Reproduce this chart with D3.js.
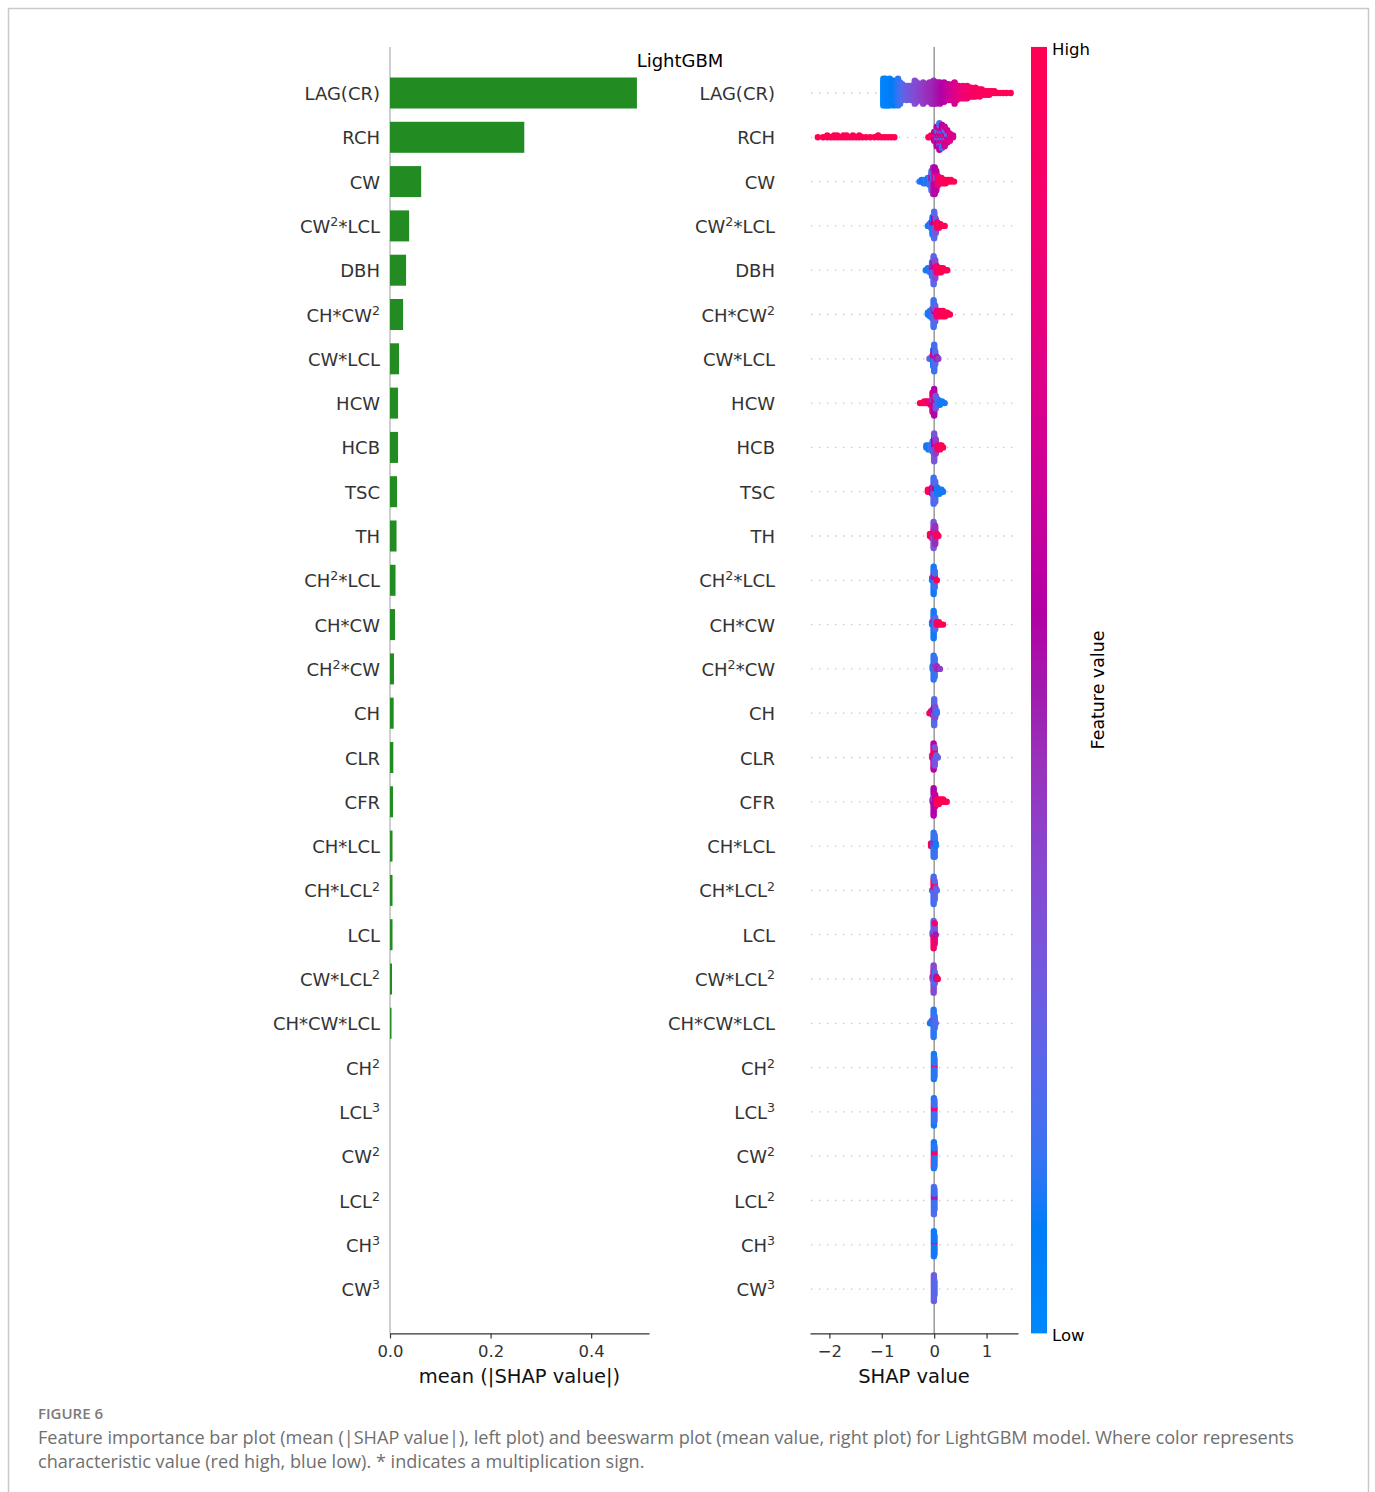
<!DOCTYPE html>
<html>
<head>
<meta charset="utf-8">
<script src="https://cdn.jsdelivr.net/npm/d3@7"></script>
<style>
  body { margin: 0; background: #fff; }
  svg { display: block; }
</style>
</head>
<body>
<svg id="chart" width="1375" height="1492"></svg>
<script>
// ---- features, ordered by importance (top to bottom) ----
const features = ["LAG(CR)", "RCH", "CW", "CW^2*LCL", "DBH", "CH*CW^2", "CW*LCL", "HCW", "HCB", "TSC",
  "TH", "CH^2*LCL", "CH*CW", "CH^2*CW", "CH", "CLR", "CFR", "CH*LCL", "CH*LCL^2", "LCL",
  "CW*LCL^2", "CH*CW*LCL", "CH^2", "LCL^3", "CW^2", "LCL^2", "CH^3", "CW^3"];

// mean(|SHAP value|) per feature
const meanAbsShap = [0.491, 0.267, 0.062, 0.038, 0.032, 0.026, 0.018, 0.016, 0.016, 0.014,
  0.013, 0.011, 0.010, 0.008, 0.0073, 0.0066, 0.006, 0.005, 0.005, 0.005,
  0.004, 0.003, 0, 0, 0, 0, 0, 0];

const barTicks = [0, 0.2, 0.4];
const shapTicks = [-2, -1, 0, 1];

// beeswarm samples per feature: [SHAP value, number of samples, normalised feature value (0 low .. 1 high)]
const swarmLAG_CR = [[-0.97,16,0.02],[-0.93,16,0.03],[-0.89,15,0.05],[-0.85,16,0.05],[-0.81,14,0.08],[-0.77,15,0.08],
  [-0.73,12,0.10],[-0.69,16,0.12],[-0.65,13,0.15],[-0.61,10,0.18],[-0.57,8,0.22],[-0.53,9,0.25],[-0.49,8,0.27],
  [-0.45,9,0.29],[-0.41,8,0.31],[-0.37,14,0.33],[-0.33,12,0.35],[-0.29,9,0.37],[-0.25,10,0.39],[-0.21,13,0.40],
  [-0.17,11,0.42],[-0.13,10,0.44],[-0.09,12,0.45],[-0.05,13,0.46],[-0.01,14,0.47],[0.03,13,0.49],[0.07,12,0.51],
  [0.11,13,0.53],[0.15,11,0.55],[0.19,12,0.57],[0.23,10,0.6],[0.27,10,0.63],[0.31,9,0.66],[0.35,10,0.69],
  [0.39,13,0.72],[0.43,9,0.75],[0.47,8,0.78],[0.51,7,0.8],[0.55,8,0.82],[0.59,7,0.85],[0.63,8,0.87],
  [0.67,6,0.88],[0.71,6,0.90],[0.75,5,0.92],[0.79,6,0.92],[0.83,4,0.93],[0.87,5,0.95],[0.91,4,0.95],
  [0.95,3,0.96],[1.00,3,0.97],[1.05,3,0.97],[1.10,2,0.98],[1.15,2,0.98],[1.20,1,0.99],[1.26,1,0.99],
  [1.32,1,1],[1.38,1,1],[1.46,1,1]];
const swarmRCH = [[-2.22,1,1],[-2.12,1,1],[-2.04,2,1],[-1.97,1,1],[-1.91,2,1],[-1.85,2,0.98],[-1.79,1,1],
  [-1.73,2,1],[-1.67,2,1],[-1.61,1,1],[-1.55,2,0.98],[-1.49,1,1],[-1.43,2,1],[-1.37,1,1],[-1.30,1,1],
  [-1.22,1,1],[-1.14,1,1],[-1.07,2,1],[-1.00,1,1],[-0.94,1,1],[-0.88,1,1],[-0.82,1,1],[-0.76,1,1],
  [-0.11,1,1],[-0.06,2,0.95],[0.00,4,0.6],[0.00,2,0.9],[0.05,6,0.55],[0.05,4,0.15],[0.05,2,0.85],
  [0.10,6,0.6],[0.10,6,0.2],[0.10,4,0.8],[0.15,6,0.55],[0.15,5,0.15],[0.15,3,0.85],[0.20,6,0.65],
  [0.20,4,0.2],[0.20,2,0.9],[0.25,5,0.7],[0.25,3,0.2],[0.30,4,0.75],[0.30,1,0.3],[0.36,2,0.7]];
const swarmCW = [[-0.28,1,0.15],[-0.24,2,0.1],[-0.20,3,0.1],[-0.16,3,0.15],[-0.12,4,0.1],[-0.08,5,0.2],
  [-0.05,8,0.15],[-0.05,4,0.5],[-0.02,10,0.45],[-0.02,6,0.2],[0.01,10,0.55],[0.01,6,0.75],[0.04,8,0.6],
  [0.04,4,0.3],[0.07,6,0.8],[0.10,4,0.9],[0.14,4,0.95],[0.18,3,0.95],[0.22,3,1],[0.27,2,1],[0.32,2,1],[0.38,1,1]];
const swarmCW2_LCL = [[-0.12,1,0.1],[-0.09,2,0.1],[-0.06,4,0.15],[-0.03,8,0.1],[-0.03,3,0.5],[0.00,10,0.2],
  [0.00,6,0.55],[0.03,6,0.3],[0.03,3,0.8],[0.06,4,0.9],[0.09,3,0.95],[0.12,2,1],[0.16,1,1],[0.20,1,1]];
const swarmDBH = [[-0.16,1,0.1],[-0.12,2,0.1],[-0.08,3,0.15],[-0.04,6,0.1],[-0.04,2,0.5],[-0.01,10,0.2],
  [-0.01,5,0.5],[0.02,7,0.35],[0.02,3,0.8],[0.05,4,0.85],[0.09,3,0.9],[0.13,3,1],[0.17,2,1],[0.21,1,1],[0.25,1,1]];
const swarmCH_CW2 = [[-0.12,2,0.1],[-0.08,4,0.1],[-0.04,6,0.15],[-0.01,12,0.15],[-0.01,4,0.45],[0.02,8,0.25],
  [0.02,2,0.6],[0.05,4,0.85],[0.09,4,0.9],[0.13,4,0.95],[0.17,4,1],[0.21,3,1],[0.25,2,1],[0.30,1,1]];
const swarmCW_LCL = [[-0.09,1,0.2],[-0.05,2,0.15],[-0.02,6,0.1],[-0.02,4,0.8],[0.00,10,0.15],[0.00,6,0.85],
  [0.02,6,0.2],[0.02,2,0.6],[0.05,2,0.5],[0.08,1,0.4]];
const swarmHCW = [[-0.27,1,1],[-0.23,1,1],[-0.19,2,0.95],[-0.15,2,0.95],[-0.11,2,0.9],[-0.07,3,0.8],
  [-0.03,8,0.75],[-0.03,4,0.4],[0.00,10,0.55],[0.00,6,0.75],[0.03,6,0.3],[0.03,2,0.7],[0.07,4,0.15],
  [0.11,3,0.1],[0.15,2,0.1],[0.20,1,0.1]];
const swarmHCB = [[-0.15,2,0.1],[-0.11,3,0.1],[-0.07,3,0.15],[-0.03,6,0.15],[0.00,10,0.3],[0.00,5,0.55],
  [0.03,6,0.4],[0.03,2,0.8],[0.07,3,0.9],[0.11,3,0.95],[0.14,2,1],[0.17,1,1]];
const swarmTSC = [[-0.12,2,1],[-0.08,2,0.95],[-0.04,4,0.6],[-0.01,10,0.15],[-0.01,4,0.45],[0.02,8,0.2],
  [0.02,3,0.6],[0.06,4,0.1],[0.10,3,0.1],[0.14,2,0.1],[0.17,1,0.1]];
const swarmTH = [[-0.08,2,1],[-0.04,3,0.9],[-0.01,10,0.3],[-0.01,4,0.75],[0.02,8,0.45],[0.02,2,0.9],
  [0.05,2,0.95],[0.08,1,1]];
const swarmCH2_LCL = [[-0.04,2,0.1],[-0.01,10,0.1],[-0.01,3,0.5],[0.01,6,0.15],[0.01,2,0.7],[0.05,1,1]];
const swarmCH_CW = [[-0.04,2,0.1],[-0.01,10,0.1],[-0.01,3,0.45],[0.02,6,0.2],[0.05,2,0.9],[0.09,2,1],
  [0.13,1,1],[0.17,1,1]];
const swarmCH2_CW = [[-0.03,2,0.1],[-0.01,10,0.12],[0.01,6,0.15],[0.01,2,0.4],[0.05,2,0.45],[0.09,1,0.5],[0.11,1,0.4]];
const swarmCH = [[-0.09,1,1],[-0.06,2,0.95],[-0.02,4,0.5],[0.00,10,0.2],[0.00,4,0.55],[0.02,6,0.35],[0.05,2,0.15]];
const swarmCLR = [[-0.04,2,0.4],[-0.01,10,0.6],[-0.01,4,0.95],[0.01,6,0.3],[0.01,4,0.9],[0.04,2,0.2],[0.07,1,0.25]];
const swarmCFR = [[-0.03,2,0.5],[-0.01,10,0.55],[-0.01,3,0.35],[0.02,6,0.6],[0.05,3,0.95],[0.09,3,1],
  [0.13,2,1],[0.17,2,1],[0.21,1,1],[0.24,1,1]];
const swarmCH_LCL = [[-0.06,2,1],[-0.03,2,0.6],[-0.01,10,0.12],[0.01,7,0.15],[0.01,2,0.5],[0.03,2,0.1]];
const swarmCH_LCL2 = [[-0.04,1,0.2],[-0.01,8,0.15],[-0.01,5,0.95],[0.01,6,0.2],[0.01,3,0.9],[0.03,2,0.3],[0.05,1,0.2]];
const swarmLCL = [[-0.03,2,0.2],[-0.01,7,0.9],[-0.01,6,0.2],[0.01,6,0.85],[0.01,4,0.3],[0.03,1,0.5]];
const swarmCW_LCL2 = [[-0.03,2,0.4],[-0.01,9,0.35],[-0.01,4,0.6],[0.01,6,0.2],[0.04,2,0.5],[0.07,1,1]];
const swarmCH_CW_LCL = [[-0.08,1,0.1],[-0.05,2,0.1],[-0.01,10,0.12],[-0.01,3,0.4],[0.01,6,0.15],[0.03,1,0.2]];
const swarmCH2 = [[-0.005,12,0.1],[0.005,8,0.12],[0.005,1,0.95],[0.0,1,1]];
const swarmLCL3 = [[-0.005,10,0.1],[-0.005,3,0.8],[0.005,8,0.15],[0.005,2,0.85]];
const swarmCW2 = [[-0.005,6,0.9],[-0.005,8,0.1],[0.005,8,0.12],[0.005,3,0.9]];
const swarmLCL2 = [[-0.005,10,0.2],[-0.005,3,0.45],[0.005,8,0.15],[0.005,2,0.5]];
const swarmCH3 = [[-0.005,12,0.1],[0.005,8,0.1],[0.005,1,0.95]];
const swarmCW3 = [[-0.005,10,0.25],[-0.005,4,0.4],[0.005,8,0.2]];

const swarmRows = [swarmLAG_CR, swarmRCH, swarmCW, swarmCW2_LCL, swarmDBH, swarmCH_CW2, swarmCW_LCL, swarmHCW,
  swarmHCB, swarmTSC, swarmTH, swarmCH2_LCL, swarmCH_CW, swarmCH2_CW, swarmCH, swarmCLR, swarmCFR, swarmCH_LCL,
  swarmCH_LCL2, swarmLCL, swarmCW_LCL2, swarmCH_CW_LCL, swarmCH2, swarmLCL3, swarmCW2, swarmLCL2, swarmCH3, swarmCW3];

// ---- layout ----
const svg = d3.select("#chart");
const FONT = "'DejaVu Sans', sans-serif";
const rowY = d3.scaleLinear().domain([0, 27]).range([93, 93 + 27 * 44.3]);
const rowStep = rowY(1) - rowY(0);
const plotTop = rowY(-1.04), plotBottom = rowY(28);

const xBar = d3.scaleLinear().domain([0, 0.515]).range([390, 649]);
const xShap = d3.scaleLinear().domain([-2.37, 1.60]).range([810, 1018]);

// red-blue colour map (blue = low, red = high), interpolated in LCh
function shapColor(v) {
  const t = Math.max(0, Math.min(1, v));
  const l = t < 0.5 ? 54 + (40 - 54) * (t / 0.5) : 40 + (54 - 40) * ((t - 0.5) / 0.5);
  const c = 70 + 20 * t;
  const h = 4.6588 + (0.35470565 + 2 * Math.PI - 4.6588) * t;
  return d3.hcl(h * 180 / Math.PI, c, l).formatHex();
}

// outer frame
svg.append("rect").attr("x", 8.5).attr("y", 8.5).attr("width", 1360).attr("height", 1520)
  .attr("fill", "none").attr("stroke", "#c9c9c9").attr("stroke-width", 1.5);

// label with superscripts written as ^n
function addLabel(sel, label, x, y, size) {
  const t = sel.append("text").attr("x", x).attr("y", y).attr("text-anchor", "end")
    .attr("font-family", FONT).attr("font-size", size).attr("fill", "#333333");
  const parts = label.split(/\^(\d)/);
  parts.forEach((p, i) => {
    if (p === "") return;
    if (i % 2 === 1) {
      t.append("tspan").attr("font-size", size * 0.7).attr("dy", -size * 0.38).text(p);
    } else {
      const ts = t.append("tspan").text(p);
      if (i > 0) ts.attr("dy", size * 0.38);
    }
  });
}

// ---------- left: bar plot ----------
const gBar = svg.append("g");
gBar.append("line").attr("x1", xBar(0)).attr("x2", xBar(0)).attr("y1", plotTop).attr("y2", plotBottom)
  .attr("stroke", "#b5b5b5").attr("stroke-width", 1.3);

gBar.selectAll("rect.bar").data(features).join("rect").attr("class", "bar")
  .attr("x", xBar(0))
  .attr("y", (d, i) => rowY(i) - rowStep * 0.35)
  .attr("width", (d, i) => xBar(meanAbsShap[i]) - xBar(0))
  .attr("height", rowStep * 0.7)
  .attr("fill", "#228b22");

features.forEach((f, i) => addLabel(gBar, f, 380, rowY(i) + 7, 18));

const axBar = gBar.append("g").attr("transform", `translate(0,${plotBottom})`)
  .call(d3.axisBottom(xBar).tickValues(barTicks).tickFormat(d3.format(".1f")).tickSize(5).tickSizeOuter(0));
axBar.select(".domain").attr("stroke", "#333333").attr("stroke-width", 1.3);
axBar.selectAll(".tick line").attr("stroke", "#333333").attr("stroke-width", 1.2);
axBar.selectAll(".tick text").attr("font-family", FONT).attr("font-size", 16.5).attr("fill", "#333333").attr("dy", "0.95em");

gBar.append("text").attr("x", (xBar.range()[0] + xBar.range()[1]) / 2).attr("y", 1383)
  .attr("text-anchor", "middle").attr("font-family", FONT).attr("font-size", 19.5).attr("fill", "#111")
  .text("mean (|SHAP value|)");

// ---------- right: beeswarm ----------
const gSw = svg.append("g");
features.forEach((f, i) => {
  gSw.append("line").attr("x1", xShap.range()[0] + 1).attr("x2", xShap.range()[1])
    .attr("y1", rowY(i)).attr("y2", rowY(i))
    .attr("stroke", "#c4c4c4").attr("stroke-width", 1.3).attr("stroke-dasharray", "1.3,6.7");
});
gSw.append("line").attr("x1", xShap(0)).attr("x2", xShap(0)).attr("y1", plotTop).attr("y2", plotBottom)
  .attr("stroke", "#999999").attr("stroke-width", 1.5);

// stack points that fall in the same bin, alternating above and below the row line
function layoutRow(triples) {
  const pts = [];
  triples.forEach((t, k) => { for (let j = 0; j < t[1]; j++) pts.push({ x: t[0], c: t[2], k, j }); });
  const lo = d3.min(pts, p => p.x), hi = d3.max(pts, p => p.x);
  const nbins = 100;
  pts.forEach(p => { p.bin = Math.round(nbins * (p.x - lo) / (hi - lo + 1e-8)); });
  const order = pts.slice().sort((a, b) => a.bin - b.bin || a.j - b.j || a.k - b.k);
  let layer = 0, last = -1;
  order.forEach(p => {
    if (p.bin !== last) layer = 0;
    p.ys = Math.ceil(layer / 2) * ((layer % 2) * 2 - 1);
    layer++; last = p.bin;
  });
  const m = d3.max(pts, p => p.ys + 1);
  pts.forEach(p => { p.ys *= 0.9 * (0.4 / m); });
  return order;
}

swarmRows.forEach((triples, i) => {
  const pts = layoutRow(triples);
  gSw.append("g").selectAll("circle").data(pts).join("circle")
    .attr("cx", d => xShap(d.x))
    .attr("cy", d => rowY(i) - d.ys * rowStep)
    .attr("r", 3.2)
    .attr("fill", d => shapColor(d.c));
});

features.forEach((f, i) => addLabel(gSw, f, 775, rowY(i) + 7, 18));

const axSh = gSw.append("g").attr("transform", `translate(0,${plotBottom})`)
  .call(d3.axisBottom(xShap).tickValues(shapTicks).tickFormat(d3.format("d")).tickSize(5).tickSizeOuter(0));
axSh.select(".domain").attr("stroke", "#333333").attr("stroke-width", 1.3);
axSh.selectAll(".tick line").attr("stroke", "#333333").attr("stroke-width", 1.2);
axSh.selectAll(".tick text").attr("font-family", FONT).attr("font-size", 16.5).attr("fill", "#333333").attr("dy", "0.95em");

gSw.append("text").attr("x", (xShap.range()[0] + xShap.range()[1]) / 2).attr("y", 1383)
  .attr("text-anchor", "middle").attr("font-family", FONT).attr("font-size", 19.5).attr("fill", "#111")
  .text("SHAP value");

// title
svg.append("text").attr("x", 680).attr("y", 67).attr("text-anchor", "middle")
  .attr("font-family", FONT).attr("font-size", 18).attr("fill", "#000").text("LightGBM");

// ---------- colour bar ----------
const defs = svg.append("defs");
const grad = defs.append("linearGradient").attr("id", "cbar").attr("x1", 0).attr("y1", 1).attr("x2", 0).attr("y2", 0);
d3.range(0, 1.0001, 0.02).forEach(t => grad.append("stop").attr("offset", t).attr("stop-color", shapColor(t)));
svg.append("rect").attr("x", 1031).attr("y", plotTop).attr("width", 16).attr("height", plotBottom - plotTop)
  .attr("fill", "url(#cbar)");
svg.append("text").attr("x", 1052).attr("y", 55).attr("font-family", FONT).attr("font-size", 16.5)
  .attr("fill", "#000").text("High");
svg.append("text").attr("x", 1052).attr("y", 1341).attr("font-family", FONT).attr("font-size", 16.5)
  .attr("fill", "#000").text("Low");
svg.append("text").attr("transform", "translate(1104,690) rotate(-90)").attr("text-anchor", "middle")
  .attr("font-family", FONT).attr("font-size", 17.4).attr("fill", "#000").text("Feature value");

// ---------- caption ----------
const CAP = "'Open Sans', 'Noto Sans', sans-serif";
function fitText(sel, width) {
  const w = sel.node().getComputedTextLength();
  const fs = parseFloat(sel.attr("font-size"));
  sel.attr("font-size", fs * width / w);
}
const fig = svg.append("text").attr("x", 38).attr("y", 1419).attr("font-family", CAP).attr("font-weight", 600)
  .attr("font-size", 13).attr("fill", "#7a7a7a").text("FIGURE 6");
fitText(fig, 65);
const cap1 = svg.append("text").attr("x", 38).attr("y", 1444).attr("font-family", CAP).attr("font-size", 17)
  .attr("fill", "#6f6f6f")
  .text("Feature importance bar plot (mean (|SHAP value|), left plot) and beeswarm plot (mean value, right plot) for LightGBM model. Where color represents");
fitText(cap1, 1256);
svg.append("text").attr("x", 38).attr("y", 1468).attr("font-family", CAP).attr("font-size", cap1.attr("font-size"))
  .attr("fill", "#6f6f6f")
  .text("characteristic value (red high, blue low). * indicates a multiplication sign.");
</script>
</body>
</html>
